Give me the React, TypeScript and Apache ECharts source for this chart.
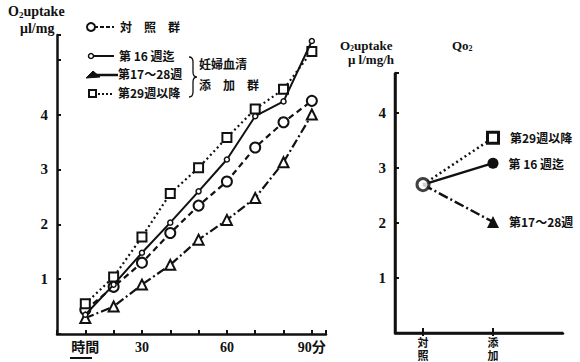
import React, { useEffect, useRef } from "react";
import * as echarts from "echarts";

const times = [10, 20, 30, 40, 50, 60, 70, 80, 90];
const control = [0.44, 0.86, 1.3, 1.84, 2.34, 2.78, 3.4, 3.86, 4.25];
const wk16 = [0.35, 0.9, 1.48, 2.03, 2.6, 3.18, 3.97, 4.24, 5.34];
const wk17to28 = [0.29, 0.5, 0.9, 1.26, 1.72, 2.08, 2.48, 3.13, 4.0];
const wk29 = [0.55, 1.04, 1.77, 2.56, 3.03, 3.58, 4.1, 4.46, 5.15];

const qo2Categories = ["対\n照", "添\n加"];
const qo2Positions = [0, 1];
const qo2Control = 2.7;
const qo2Wk29 = 3.55;
const qo2Wk16 = 3.09;
const qo2Wk17to28 = 2.02;

const leftYLabels = ["1", "2", "3", "4"];
const leftXLabels: Record<number, string> = { 10: "時間", 30: "30", 60: "60", 90: "90分" };

const INK = "#111";
const SERIF = "Liberation Serif, DejaVu Serif, Noto Sans CJK JP, serif";
const CJK = "Noto Sans CJK JP, Liberation Serif, serif";

const QX_MIN = -0.4;
const QX_MAX = 2.0;
const QY_MAX = 4.73;

const BRACE = "M0 0 Q4 0 4 5 L4 15 Q4 20 8 20 Q4 20 4 25 L4 35 Q4 40 0 40";
echarts.graphic.registerShape("brace", echarts.graphic.extendPath(BRACE, {}) as any);

export default function App() {
  const ref = useRef<HTMLDivElement>(null);
  useEffect(() => {
    document.body.style.margin = "0";
    const chart = echarts.init(ref.current!, null, { renderer: "svg" });
    const pts = (arr: number[]) => times.map((t, i) => [t, arr[i]]);
    const axisLine = () => ({ show: true, onZero: false, lineStyle: { color: INK, width: 2.5 } });
    const tick = () => ({ show: true, inside: true, length: 4, lineStyle: { color: INK, width: 2 } });
    const yLabel = () => ({
      color: INK,
      fontFamily: SERIF,
      fontWeight: "bold" as const,
      fontSize: 15,
      margin: 9,
      formatter: (v: number) => (leftYLabels.includes(String(v)) ? String(v) : ""),
    });
    const endLabel = () => ({ position: "right", distance: 10, color: INK, fontFamily: CJK, fontSize: 12, fontWeight: "bold" });
    const catLabel = (v: number) => {
      const i = qo2Positions.findIndex((p) => Math.abs(p - v) < 1e-6);
      return i >= 0 ? qo2Categories[i] : "";
    };
    const staticGraphics: any[] = [
      {
        type: "text",
        left: 8,
        top: 5,
        style: {
          text: "O{s|2}uptake",
          font: `bold 14px ${SERIF}`,
          fill: INK,
          rich: { s: { fontSize: 9, fontWeight: "bold", fontFamily: SERIF, padding: [6, 0, 0, 0] } },
        },
      },
      { type: "text", left: 20, top: 21, style: { text: "μl/mg", font: `bold 14px ${SERIF}`, fill: INK } },
      {
        type: "text",
        left: 340,
        top: 39,
        style: {
          text: "O{s|2}uptake",
          font: `bold 13px ${SERIF}`,
          fill: INK,
          rich: { s: { fontSize: 8, fontWeight: "bold", fontFamily: SERIF, padding: [6, 0, 0, 0] } },
        },
      },
      { type: "text", left: 348, top: 53, style: { text: "μ l/mg/h", font: `bold 13px ${SERIF}`, fill: INK } },
      {
        type: "text",
        left: 452,
        top: 39,
        style: {
          text: "Qo{s|2}",
          font: `bold 13px ${SERIF}`,
          fill: INK,
          rich: { s: { fontSize: 8, fontWeight: "bold", fontFamily: SERIF, padding: [6, 0, 0, 0] } },
        },
      },
      { type: "line", shape: { x1: 94, y1: 27, x2: 114, y2: 27 }, style: { stroke: INK, lineWidth: 2, lineDash: [4, 2] } },
      { type: "circle", shape: { cx: 91, cy: 27, r: 4 }, style: { fill: "#fff", stroke: INK, lineWidth: 2 } },
      { type: "text", left: 120, top: 20, style: { text: "対　照　群", font: `bold 12px ${CJK}`, fill: INK } },

      { type: "line", shape: { x1: 90, y1: 56, x2: 114, y2: 56 }, style: { stroke: INK, lineWidth: 2 } },
      { type: "circle", shape: { cx: 91, cy: 56, r: 2.5 }, style: { fill: "#fff", stroke: INK, lineWidth: 1.5 } },
      { type: "text", left: 119, top: 49, style: { text: "第 16 週迄", font: `bold 12px ${CJK}`, fill: INK } },

      { type: "line", shape: { x1: 92, y1: 75, x2: 118, y2: 75 }, style: { stroke: INK, lineWidth: 2.5 } },
      { type: "polygon", shape: { points: [[86, 78], [93, 71], [100, 77]] }, style: { fill: INK, stroke: INK, lineWidth: 1 } },
      { type: "text", left: 118, top: 67, style: { text: "第17～28週", font: `bold 12px ${CJK}`, fill: INK } },

      { type: "line", shape: { x1: 98, y1: 94, x2: 114, y2: 94 }, style: { stroke: INK, lineWidth: 2, lineDash: [2, 2] } },
      { type: "rect", shape: { x: 89, y: 90, width: 7, height: 7 }, style: { fill: "#fff", stroke: INK, lineWidth: 2 } },
      { type: "text", left: 118, top: 86, style: { text: "第29週以降", font: `bold 12px ${CJK}`, fill: INK } },

      { type: "brace", x: 189, y: 57, scaleX: 1, scaleY: 1, style: { stroke: INK, lineWidth: 1.3, fill: "none" } },
      { type: "text", left: 199, top: 57, style: { text: "妊婦血清", font: `bold 12px ${CJK}`, fill: INK } },
      { type: "text", left: 199, top: 78, style: { text: "添　加　群", font: `bold 12px ${CJK}`, fill: INK } },

      { type: "line", shape: { x1: 70, y1: 358, x2: 92, y2: 358 }, style: { stroke: INK, lineWidth: 2 } },
    ];
    const option: any = {
      animation: false,
      backgroundColor: "#fff",
      grid: [
        { left: 57, top: 35, width: 269, height: 299 },
        { left: 395, top: 73, width: 168, height: 260 },
      ],
      xAxis: [
        {
          gridIndex: 0,
          type: "value",
          min: 0,
          max: 95,
          interval: 10,
          axisLine: axisLine(),
          axisTick: tick(),
          splitLine: { show: false },
          axisLabel: {
            color: INK,
            fontFamily: SERIF,
            fontWeight: "bold",
            fontSize: 14,
            margin: 6,
            formatter: (v: number) => leftXLabels[v] ?? "",
          },
        },
        {
          gridIndex: 1,
          type: "value",
          min: QX_MIN,
          max: QX_MAX,
          interval: 0.2,
          axisLine: axisLine(),
          axisTick: { show: false },
          splitLine: { show: false },
          axisLabel: {
            color: INK,
            fontFamily: CJK,
            fontWeight: "bold",
            fontSize: 11,
            lineHeight: 13,
            margin: 2,
            showMinLabel: false,
            showMaxLabel: false,
            formatter: catLabel,
          },
        },
      ],
      yAxis: [
        {
          gridIndex: 0,
          type: "value",
          min: 0,
          max: 5.45,
          interval: 1,
          axisLine: axisLine(),
          axisTick: tick(),
          splitLine: { show: false },
          axisLabel: yLabel(),
        },
        {
          gridIndex: 1,
          type: "value",
          min: 0,
          max: QY_MAX,
          interval: 1,
          axisLine: axisLine(),
          axisTick: tick(),
          splitLine: { show: false },
          axisLabel: yLabel(),
        },
      ],
      series: [
        {
          name: "対照群",
          type: "line",
          xAxisIndex: 0,
          yAxisIndex: 0,
          data: pts(control),
          symbol: "circle",
          symbolSize: 10,
          lineStyle: { color: INK, width: 2.2, type: [6, 4] },
          itemStyle: { color: "#fff", borderColor: INK, borderWidth: 2 },
          z: 3,
        },
        {
          name: "第16週迄",
          type: "line",
          xAxisIndex: 0,
          yAxisIndex: 0,
          data: pts(wk16),
          symbol: "circle",
          symbolSize: 5,
          lineStyle: { color: INK, width: 2 },
          itemStyle: { color: "#fff", borderColor: INK, borderWidth: 1.5 },
          z: 4,
        },
        {
          name: "第17～28週",
          type: "line",
          xAxisIndex: 0,
          yAxisIndex: 0,
          data: pts(wk17to28),
          symbol: "triangle",
          symbolSize: 10,
          lineStyle: { color: INK, width: 2.2, type: [9, 3, 2, 3] },
          itemStyle: { color: "#fff", borderColor: INK, borderWidth: 2 },
          z: 3,
        },
        {
          name: "第29週以降",
          type: "line",
          xAxisIndex: 0,
          yAxisIndex: 0,
          data: pts(wk29),
          symbol: "rect",
          symbolSize: 9,
          lineStyle: { color: INK, width: 2.2, type: [2, 3] },
          itemStyle: { color: "#fff", borderColor: INK, borderWidth: 2 },
          z: 3,
        },
        {
          type: "line",
          xAxisIndex: 1,
          yAxisIndex: 1,
          data: [
            { value: [qo2Positions[0], qo2Control], symbol: "none" },
            { value: [qo2Positions[1], qo2Wk29], label: { show: true, formatter: "第29週以降" } },
          ],
          symbol: "rect",
          symbolSize: 11,
          lineStyle: { color: INK, width: 2.5, type: [2, 3] },
          itemStyle: { color: "#fff", borderColor: INK, borderWidth: 3 },
          label: endLabel(),
        },
        {
          type: "line",
          xAxisIndex: 1,
          yAxisIndex: 1,
          data: [
            { value: [qo2Positions[0], qo2Control], symbol: "none" },
            { value: [qo2Positions[1], qo2Wk16], label: { show: true, formatter: "第 16 週迄" } },
          ],
          symbol: "circle",
          symbolSize: 11,
          lineStyle: { color: INK, width: 2.5 },
          itemStyle: { color: INK },
          label: endLabel(),
        },
        {
          type: "line",
          xAxisIndex: 1,
          yAxisIndex: 1,
          data: [
            { value: [qo2Positions[0], qo2Control], symbol: "none" },
            { value: [qo2Positions[1], qo2Wk17to28], label: { show: true, formatter: "第17～28週" } },
          ],
          symbol: "triangle",
          symbolSize: 12,
          lineStyle: { color: INK, width: 2.5, type: [10, 3, 2, 3] },
          itemStyle: { color: INK },
          label: endLabel(),
        },
        {
          type: "scatter",
          xAxisIndex: 1,
          yAxisIndex: 1,
          data: [[qo2Positions[0], qo2Control]],
          symbol: "circle",
          symbolSize: 12,
          itemStyle: { color: "#fff", borderColor: INK, borderWidth: 3 },
          z: 5,
        },
      ],
      graphic: staticGraphics,
    };
    chart.setOption(option);

    // Qo2 panel axis lines and category ticks, placed through the panel's own scales
    const px = (v: number[]) => chart.convertToPixel({ xAxisIndex: 1, yAxisIndex: 1 } as any, v) as number[];
    const origin = px([QX_MIN, 0]);
    const top = px([QX_MIN, QY_MAX]);
    const right = px([QX_MAX, 0]);
    const axisGraphics: any[] = [
      { type: "line", z: 50, shape: { x1: origin[0], y1: origin[1], x2: top[0], y2: top[1] }, style: { stroke: INK, lineWidth: 2.5 } },
      { type: "line", z: 50, shape: { x1: origin[0], y1: origin[1], x2: right[0], y2: right[1] }, style: { stroke: INK, lineWidth: 2.5 } },
      ...qo2Positions.map((p) => {
        const q = px([p, 0]);
        return { type: "line", z: 50, shape: { x1: q[0], y1: q[1] - 5, x2: q[0], y2: q[1] + 3 }, style: { stroke: INK, lineWidth: 2 } };
      }),
    ];
    chart.setOption({ graphic: [...staticGraphics, ...axisGraphics] });
    return () => chart.dispose();
  }, []);
  return <div ref={ref} style={{ width: 580, height: 362 }} />;
}
